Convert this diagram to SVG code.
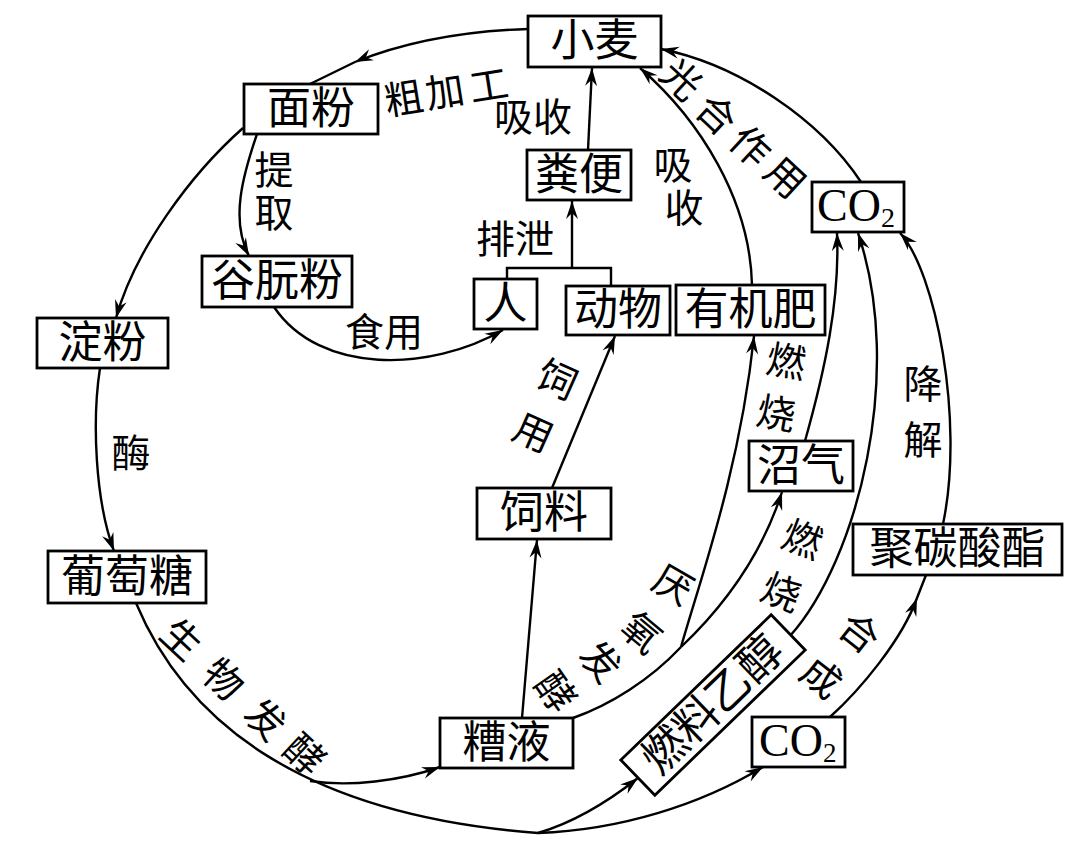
<svg xmlns="http://www.w3.org/2000/svg" width="1080" height="853" viewBox="0 0 1080 853">
<style>
.box{fill:#fff;stroke:#000;stroke-width:2.8}
.c{fill:none;stroke:#000;stroke-width:2.4}
.arr{marker-end:url(#ah)}
.mid{marker-mid:url(#ah)}
text{font-family:"Liberation Serif","Noto Sans CJK SC",serif;fill:#000}
.n{font-size:44px;text-anchor:middle;dominant-baseline:central}
.l{font-size:39px;text-anchor:middle;dominant-baseline:central}
.co{font-size:46px}
</style>
<defs>
<marker id="ah" markerUnits="userSpaceOnUse" viewBox="-19 -7 20 14" markerWidth="20" markerHeight="14" refX="0" refY="0" orient="auto"><path d="M0,0 L-18,-6 L-12,0 L-18,6 Z" fill="#000"/></marker>
</defs>
<rect width="1080" height="853" fill="#fff"/>
<g id="connectors">
<path class="c mid" d="M528,29 Q430,32 355,62 L310,84"/>
<path class="c arr" d="M243,128 C190,175 135,250 116,318"/>
<path class="c arr" d="M100,368 C92,420 95,500 114,551"/>
<path class="c" d="M136,603 C185,720 300,815 538,833"/>
<path class="c arr" d="M310,781 C350,787 400,781 440,767"/>
<path class="c arr" d="M538,833 C572,823 605,804 638,778"/>
<path class="c arr" d="M538,833 C620,830 700,805 763,767"/>
<path class="c mid" d="M830,717 C860,690 902,640 917,598 L926,575"/>
<path class="c arr" d="M943,524 C965,420 935,270 900,233"/>
<path class="c arr" d="M861,182 C820,120 740,65 661,49"/>
<path class="c arr" d="M257,134 C243,175 230,220 249,256"/>
<path class="c arr" d="M274,307 C320,375 430,372 503,330"/>
<path class="c" d="M507,279 V268 H611 V286"/>
<path class="c arr" d="M572,268 V201"/>
<path class="c arr" d="M588,150 L592,68"/>
<path class="c arr" d="M752,285 C750,200 700,120 640,68"/>
<path class="c arr" d="M552,488 L615,336"/>
<path class="c arr" d="M522,718 L537,540"/>
<path class="c" d="M573,718 C610,705 650,680 681,647"/>
<path class="c arr" d="M681,647 C700,580 740,470 754,336"/>
<path class="c arr" d="M681,647 C720,610 760,560 782,492"/>
<path class="c arr" d="M805,441 C825,370 840,300 837,233"/>
<path class="c arr" d="M790,636 C858,560 905,372 858,233"/>
</g>
<g id="n-xiaomai"><rect class="box" x="528" y="16" width="133" height="51"/><text class="n" x="594.5" y="41.5">小麦</text></g>
<g id="n-mianfen"><rect class="box" x="244" y="84" width="134" height="50"/><text class="n" x="311" y="109">面粉</text></g>
<g id="n-fenbian"><rect class="box" x="527" y="150" width="104" height="50"/><text class="n" x="579" y="175">粪便</text></g>
<g id="n-guruanfen"><rect class="box" x="202" y="256" width="150" height="51"/><text class="n" x="277" y="281.5">谷朊粉</text></g>
<g id="n-ren"><rect class="box" x="474" y="279" width="63" height="50"/><text class="n" x="505.5" y="304">人</text></g>
<g id="n-dongwu"><rect class="box" x="566" y="286" width="104" height="49"/><text class="n" x="618" y="310.5">动物</text></g>
<g id="n-youjifei"><rect class="box" x="676" y="285" width="149" height="50"/><text class="n" x="750.5" y="310">有机肥</text></g>
<g id="n-dianfen"><rect class="box" x="37" y="318" width="131" height="50"/><text class="n" x="102.5" y="343">淀粉</text></g>
<g id="n-co2-top"><rect class="box" x="812" y="182" width="92" height="50"/><text class="co" x="817" y="221">CO<tspan font-size="28" dy="6">2</tspan></text></g>
<g id="n-zhaoqi"><rect class="box" x="749" y="441" width="104" height="50"/><text class="n" x="801" y="466">沼气</text></g>
<g id="n-siliao"><rect class="box" x="477" y="488" width="134" height="51"/><text class="n" x="544" y="513.5">饲料</text></g>
<g id="n-jutansuanzhi"><rect class="box" x="853" y="524" width="209" height="51"/><text class="n" x="957.5" y="549.5">聚碳酸酯</text></g>
<g id="n-putaotang"><rect class="box" x="48" y="551" width="158" height="52"/><text class="n" x="127" y="577">葡萄糖</text></g>
<g id="n-ranliaoyichun" transform="translate(713,705) rotate(-44)"><rect class="box" x="-104.5" y="-24.5" width="209" height="49"/><text class="n" x="0" y="0">燃料乙醇</text></g>
<g id="n-caoye"><rect class="box" x="440" y="718" width="133" height="50"/><text class="n" x="506.5" y="743">糟液</text></g>
<g id="n-co2-bottom"><rect class="box" x="752" y="717" width="93" height="50"/><text class="co" x="759" y="756" font-size="44">CO<tspan font-size="27" dy="6">2</tspan></text></g>
<g id="labels">
<text class="l" transform="translate(404,99) rotate(-9)">粗</text>
<text class="l" transform="translate(445,92) rotate(-9)">加</text>
<text class="l" transform="translate(489,86) rotate(-9)">工</text>
<text class="l" x="533" y="117">吸收</text>
<text class="l" x="515" y="239">排泄</text>
<text class="l" x="274" y="170">提</text>
<text class="l" x="274" y="213">取</text>
<text class="l" x="384" y="332">食用</text>
<text class="l" x="131" y="453">酶</text>
<text class="l" x="673" y="165">吸</text>
<text class="l" x="684" y="208">收</text>
<text class="l" transform="translate(681,80) rotate(43)">光</text>
<text class="l" transform="translate(716,115) rotate(43)">合</text>
<text class="l" transform="translate(750,147) rotate(43)">作</text>
<text class="l" transform="translate(785,178) rotate(43)">用</text>
<text class="l" transform="translate(786,362) rotate(10)">燃</text>
<text class="l" transform="translate(776,414) rotate(10)">烧</text>
<text class="l" x="923" y="384">降</text>
<text class="l" x="923" y="440">解</text>
<text class="l" transform="translate(557,380) rotate(24)">饲</text>
<text class="l" transform="translate(533,433) rotate(24)">用</text>
<text class="l" transform="translate(802,540) rotate(21)">燃</text>
<text class="l" transform="translate(781,593) rotate(21)">烧</text>
<text class="l" transform="translate(859,633) rotate(38)">合</text>
<text class="l" transform="translate(821,678) rotate(38)">成</text>
<text class="l" transform="translate(673,585) rotate(30)">厌</text>
<text class="l" transform="translate(641,633) rotate(40)">氧</text>
<text class="l" transform="translate(600,662) rotate(48)">发</text>
<text class="l" transform="translate(555,692) rotate(55)">酵</text>
<text class="l" transform="translate(181,640) rotate(43)">生</text>
<text class="l" transform="translate(223,680) rotate(43)">物</text>
<text class="l" transform="translate(265,720) rotate(43)">发</text>
<text class="l" transform="translate(304,755) rotate(43)">酵</text>
</g>
</svg>
